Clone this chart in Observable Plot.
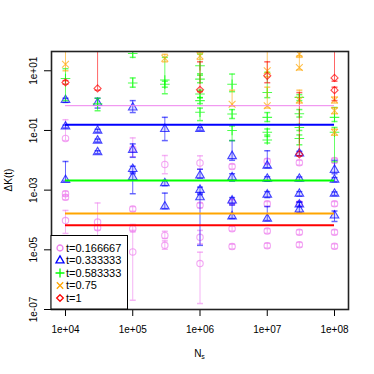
<!DOCTYPE html>
<html>
<head>
<meta charset="utf-8">
<script src="https://cdn.jsdelivr.net/npm/d3@7"></script>
<script src="https://cdn.jsdelivr.net/npm/@observablehq/plot@0.6"></script>
<style>
  body { margin: 0; background: white; }
  #chart { position: relative; width: 374px; height: 374px; }
</style>
</head>
<body>
<div id="chart"></div>
<script>
// Series labels and colours
const seriesLabels = ["t=0.166667", "t=0.333333", "t=0.583333", "t=0.75", "t=1"];
const seriesColors = ["#EE82EE", "#0000FF", "#00FF00", "#FFA500", "#FF0000"];
const seriesSymbols = ["circle", "triangle", "plus", "times", "diamond2"];

// Each row: [N_s, log10 ΔK, log10 lower, log10 upper]
const pinkData = [
  [1e4,-1.27,-1.34,-0.64],[1e4,-3.12,-3.2,-3.04],[1e4,-3.24,-3.32,-3.16],[1e4,-4.02,-4.45,-3.68],
  [3e4,-4.07,-5.3,-3.43],[3e4,-4.26,-4.34,-4.18],
  [1e5,-1.62,-1.88,-1.25],[1e5,-3.63,-3.71,-3.55],[1e5,-4.29,-4.4,-4.15],[1e5,-5.07,-6.69,-4.35],
  [3e5,-2.14,-2.45,-1.84],[3e5,-4.52,-4.62,-4.38],[3e5,-4.85,-4.98,-4.7],
  [1e6,-2.09,-2.3,-1.85],[1e6,-3.51,-3.59,-3.43],[1e6,-4.58,-4.8,-4.35],[1e6,-5.46,-6.8,-5.08],
  [3e6,-2.21,-2.29,-2.13],[3e6,-3.4,-3.48,-3.32],[3e6,-4.29,-4.37,-4.21],[3e6,-4.89,-4.97,-4.81],
  [1e7,-2.03,-2.11,-1.95],[1e7,-3.46,-3.54,-3.38],[1e7,-4.37,-4.45,-4.29],[1e7,-4.86,-4.94,-4.78],
  [3e7,-2.08,-2.16,-2.0],[3e7,-3.46,-3.54,-3.38],[3e7,-4.41,-4.49,-4.33],[3e7,-4.83,-4.91,-4.75],
  [1e8,-2.01,-2.09,-1.93],[1e8,-3.46,-3.54,-3.38],[1e8,-4.41,-4.49,-4.33],[1e8,-4.88,-4.96,-4.8]
];
const blueData = [
  [1e4,0.02,-0.06,0.08],[1e4,-0.87,-0.92,-0.82],[1e4,-2.66,-2.7,-2.04],
  [3e4,-0.08,-0.25,0.08],[3e4,-1.01,-1.06,-0.96],[3e4,-1.34,-1.39,-1.29],[3e4,-1.73,-1.78,-1.68],
  [1e5,-0.23,-0.4,0.0],[1e5,-1.65,-1.9,-1.45],[1e5,-2.29,-2.4,-2.2],[1e5,-2.56,-3.12,-2.45],
  [3e5,-0.95,-1.34,-0.56],[3e5,-2.77,-2.85,-2.68],[3e5,-3.55,-3.62,-3.1],
  [1e6,-0.95,-1.0,-0.9],[1e6,-2.51,-2.6,-2.3],[1e6,-2.99,-3.1,-2.9],[1e6,-3.24,-4.85,-3.15],
  [3e6,-1.86,-2.0,-1.34],[3e6,-2.57,-2.7,-2.45],[3e6,-3.35,-3.45,-3.25],[3e6,-3.88,-3.95,-3.5],
  [1e7,-2.18,-2.25,-1.68],[1e7,-2.62,-2.7,-2.55],[1e7,-3.15,-3.25,-3.05],[1e7,-3.96,-4.02,-3.55],
  [3e7,-1.77,-1.85,-1.7],[3e7,-2.62,-2.68,-2.56],[3e7,-3.12,-3.2,-3.05],[3e7,-3.48,-3.55,-3.4],[3e7,-3.65,-3.75,-3.4],
  [1e8,-2.32,-2.45,-2.0],[1e8,-2.65,-2.72,-2.58],[1e8,-3.12,-3.18,-3.06],[1e8,-3.85,-4.05,-3.7]
];
const greenData = [
  [1e4,0.74,0.0,1.07],
  [3e4,-0.11,-0.34,0.08],
  [1e5,1.58,1.45,1.7],[1e5,0.59,0.45,0.76],
  [3e5,0.69,0.23,1.45],[3e5,0.55,0.45,0.65],
  [1e6,1.17,0.9,1.56],[1e6,0.72,0.6,0.85],[1e6,0.22,0.1,0.35],[1e6,0.0,-0.1,0.1],[1e6,-0.39,-0.67,-0.25],
  [3e6,0.55,0.3,0.89],[3e6,-0.45,-0.6,-0.3],[3e6,-1.0,-1.34,-0.85],
  [1e7,0.27,0.1,0.95],[1e7,-0.56,-0.7,-0.4],[1e7,-1.06,-1.15,-0.95],[1e7,-1.32,-1.42,-1.2],
  [3e7,0.11,0.0,0.2],[3e7,-0.44,-0.55,-0.3],[3e7,-0.9,-1.0,-0.8],[3e7,-1.27,-1.48,-1.15],
  [1e8,-0.56,-0.7,-0.23],[1e8,-1.06,-2.05,-0.9]
];
const orangeData = [
  [1e4,1.22,1.0,1.8],
  [3e5,1.42,1.3,1.55],
  [1e6,1.5,1.38,1.62],
  [3e6,-0.12,-0.18,0.35],
  [1e7,1.0,0.8,1.7],[1e7,-0.17,-0.25,0.45],
  [3e7,1.56,1.45,1.7],[3e7,1.11,1.03,1.5],[3e7,0.02,-0.08,0.35],
  [1e8,0.02,-0.08,0.12],[1e8,-0.34,-0.44,-0.24],[1e8,-1.06,-1.16,-0.96]
];
const redData = [
  [1e4,0.61,0.55,0.67],
  [3e4,0.41,0.35,2.0],
  [1e6,0.36,0.3,1.3],
  [1e7,0.83,0.6,1.3],
  [3e7,-1.8,-1.85,0.27],
  [1e8,0.76,0.65,2.0],[1e8,0.35,0.0,0.45]
];
const seriesData = [pinkData, blueData, greenData, orangeData, redData];

// Horizontal reference levels (log10 ΔK) per series
const levelLog = [-0.17, -0.806, -2.68, -3.78, -4.18];
const levelWidths = [1, 2, 2, 2, 2];

const xTicks = [1e4, 1e5, 1e6, 1e7, 1e8];
const yTicks = [1e1, 1e-1, 1e-3, 1e-5, 1e-7];

const fmtE = d => {
  const e = Math.round(Math.log10(d));
  return `1e${e < 0 ? "-" : "+"}${String(Math.abs(e)).padStart(2, "0")}`;
};

const rows = seriesData.map((arr, i) => arr.map(([N, v, lo, hi]) => ({
  N, v: 10 ** v, lo: 10 ** lo, hi: 10 ** hi, s: i
})));
const levels = levelLog.map((l, i) => ({ v: 10 ** l, s: i }));

const capSymbol = { draw(ctx) { ctx.moveTo(-3, 0); ctx.lineTo(3, 0); } };

const marks = [];
rows.forEach((data, i) => {
  const c = seriesColors[i];
  marks.push(
    Plot.ruleX(data, { x: "N", y1: "lo", y2: "hi", stroke: c, strokeOpacity: 0.6, strokeWidth: 1, clip: true }),
    Plot.dot(data, { x: "N", y: "lo", symbol: capSymbol, stroke: c, fill: "none", strokeOpacity: 0.6, clip: true }),
    Plot.dot(data, { x: "N", y: "hi", symbol: capSymbol, stroke: c, fill: "none", strokeOpacity: 0.6, clip: true }),
    Plot.dot(data, { x: "N", y: "v", symbol: seriesSymbols[i], r: 3.2, stroke: c, fill: i === 1 ? c : "none", fillOpacity: 0.15, strokeOpacity: 0.7, strokeWidth: 1.1, clip: true })
  );
});
levels.forEach((d, i) => {
  marks.push(Plot.ruleY([d], { y: "v", x1: xTicks[0], x2: xTicks[xTicks.length - 1], stroke: seriesColors[i], strokeWidth: levelWidths[i] }));
});
marks.push(
  Plot.axisX({ ticks: xTicks, tickFormat: fmtE, tickSize: 7, tickPadding: 9, label: null, fontSize: 10 }),
  Plot.axisY({ ticks: yTicks, tickFormat: () => "", tickSize: 7, label: null }),
  Plot.text(yTicks, { y: d => d, frameAnchor: "left", text: fmtE, rotate: -90, dx: -18, textAnchor: "middle", fontSize: 10 }),
  Plot.frame({ stroke: "#222", strokeWidth: 1.6 })
);

const chart = Plot.plot({
  width: 374, height: 374,
  marginLeft: 51, marginRight: 26, marginTop: 51, marginBottom: 65,
  x: { type: "log", domain: [10 ** 3.792, 10 ** 8.208] },
  y: { type: "log", domain: [1e-7, 10 ** 1.646] },
  style: { fontFamily: "Liberation Sans, Arial, sans-serif", fontSize: "10px", background: "white", color: "black" },
  marks
});
document.getElementById("chart").appendChild(chart);

// Axis titles and legend
const svg = d3.select(chart);
const xt = svg.append("text").attr("x", 199.5).attr("y", 357).attr("text-anchor", "middle")
  .attr("font-size", 10).attr("font-family", "Liberation Sans, Arial, sans-serif").text("N");
xt.append("tspan").attr("font-size", 7).attr("dy", 2).text("s");
svg.append("text").attr("transform", "translate(12,180) rotate(-90)").attr("text-anchor", "middle")
  .attr("font-size", 10).attr("font-family", "Liberation Sans, Arial, sans-serif").text("ΔK(t)");

const lg = svg.append("g");
lg.append("rect").attr("x", 51).attr("y", 235.5).attr("width", 76.5).attr("height", 73.5)
  .attr("fill", "white").attr("stroke", "black").attr("stroke-width", 1);
const symTypes = [d3.symbolCircle, d3.symbolTriangle, d3.symbolPlus, d3.symbolTimes, d3.symbolDiamond2];
seriesLabels.forEach((lab, i) => {
  const y = 248 + i * 12.5;
  lg.append("path").attr("d", d3.symbol(symTypes[i], 28)()).attr("transform", `translate(60,${y})`)
    .attr("fill", "none").attr("stroke", seriesColors[i]).attr("stroke-width", 1.3);
  lg.append("text").attr("x", 66).attr("y", y).attr("dy", "0.35em").attr("font-size", 11)
    .attr("text-anchor", "start")
    .attr("font-family", "Liberation Sans, Arial, sans-serif").text(lab);
});
</script>
</body>
</html>
